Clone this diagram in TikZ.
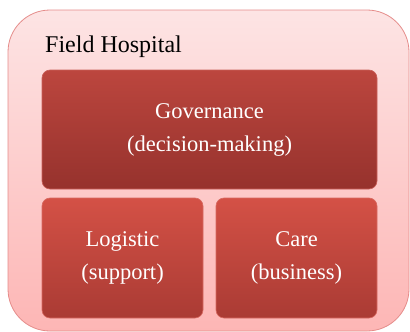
\documentclass[tikz,border=0pt]{standalone}
\usepackage{fontspec}
\setmainfont{LiberationSerif}[Extension=.ttf, UprightFont=*-Regular, BoldFont=*-Bold]
\begin{document}
\begin{tikzpicture}[x=1pt,y=-1pt,
  outerbox/.style={rounded corners=42pt, draw=outerline, line width=0.8pt,
    top color=outertop, bottom color=outerbot, minimum width=401pt, minimum height=321pt, inner sep=0pt},
  govbox/.style={rounded corners=8pt, draw=govline, line width=0.6pt,
    top color=govtop, bottom color=govbot, minimum width=335pt, minimum height=119pt,
    text=white, align=center, font=\rmfamily\fontsize{22.5}{33}\selectfont, inner sep=0pt},
  subbox/.style={rounded corners=8pt, draw=subline, line width=0.6pt,
    top color=subtop, bottom color=subbot, minimum width=161pt, minimum height=120pt,
    text=white, align=center, font=\rmfamily\fontsize{22.5}{33}\selectfont, inner sep=0pt},
  titletext/.style={font=\rmfamily\fontsize{24}{28}\selectfont, text=black, inner sep=0pt}
]
\definecolor{outerline}{HTML}{E58C8A}
\definecolor{outertop}{HTML}{FDE4E4}
\definecolor{outerbot}{HTML}{FDB6B5}
\definecolor{govline}{HTML}{C9605A}
\definecolor{govtop}{HTML}{BC463E}
\definecolor{govbot}{HTML}{96322D}
\definecolor{subline}{HTML}{D86A62}
\definecolor{subtop}{HTML}{D45146}
\definecolor{subbot}{HTML}{AA3B34}
\useasboundingbox (0,0) rectangle (410,332);
\node[outerbox] (hosp) at (208.5,170.5) {};
\node[titletext, anchor=base west] (title) at (45,52) {Field Hospital};
\node[govbox] (gov) at (209.5,129.5) {Governance\\(decision-making)};
\node[subbox] (log) at (122.5,258) {Logistic\\(support)};
\node[subbox] (care) at (296.5,258) {Care\\(business)};
\end{tikzpicture}
\end{document}
